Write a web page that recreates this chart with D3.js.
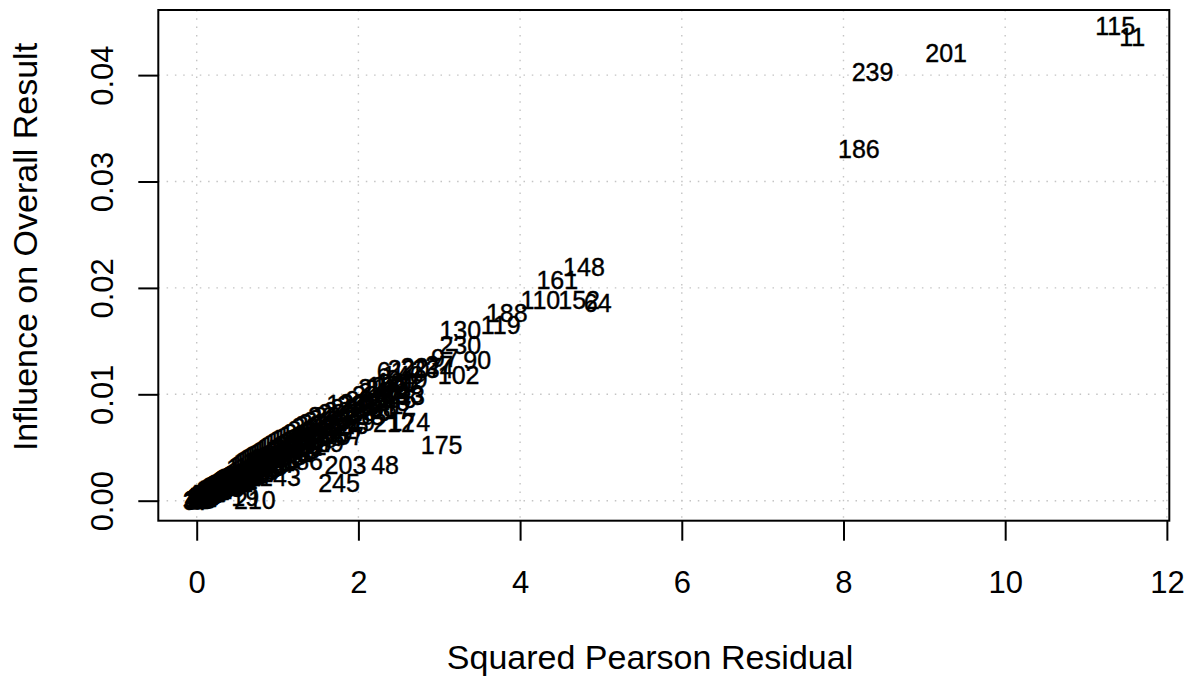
<!DOCTYPE html>
<html>
<head>
<meta charset="utf-8">
<script src="https://cdn.jsdelivr.net/npm/d3@7"></script>
<style>
  html, body { margin: 0; padding: 0; background: #fff; }
  svg { display: block; }
  text { font-family: "Liberation Sans", Arial, Helvetica, sans-serif; fill: #000; }
</style>
</head>
<body>
<svg id="chart" width="1192" height="676"></svg>
<script>
// ---- Data ----
// Studies whose labels can be read (or roughly located)
const namedIds = [115, 11, 201, 239, 186, 148, 161, 110, 152, 64, 188, 119, 130, 230, 97, 90, 102, 175, 48, 203, 245, 210, 143, 212, 174, 61, 220, 227, 234, 27, 140, 100, 196, 21, 198, 83, 217, 124, 20, 19, 86, 93, 57, 29];
const namedResid = [11.36, 11.57, 9.27, 8.36, 8.19, 4.79, 4.46, 4.25, 4.73, 4.96, 3.835, 3.76, 3.26, 3.26, 3.07, 3.47, 3.24, 3.03, 2.33, 1.84, 1.76, 0.72, 1.03, 2.44, 2.63, 2.40, 2.62, 2.78, 2.92, 3.00, 2.55, 2.48, 2.36, 2.17, 2.27, 2.45, 2.40, 1.86, 1.55, 0.60, 1.39, 2.65, 1.90, 1.65];
const namedInfl = [0.04464, 0.04361, 0.04205, 0.04032, 0.03303, 0.02199, 0.02074, 0.01886, 0.01886, 0.01855, 0.01761, 0.01651, 0.01604, 0.01463, 0.01338, 0.01322, 0.01181, 0.00524, 0.00336, 0.00336, 0.00164, 0.00007, 0.00222, 0.00727, 0.00735, 0.0122, 0.0124, 0.0126, 0.0124, 0.0128, 0.0118, 0.0112, 0.0108, 0.01057, 0.0096, 0.0099, 0.0085, 0.0091, 0.0080, 0.00035, 0.0037, 0.0098, 0.0061, 0.0054];

// Studies inside the dense, overprinted cluster near the origin (estimated)
const coreIds = [1,2,3,4,5,6,7,8,9,10,12,13,14,15,16,17,18,22,23,24,25,26,28,30,31,32,33,34,35,36,37,38,39,40,41,42,43,44,45,46,47,49,50,51,52,53,54,55,56,58,59,60,62,63,65,66,67,68,69,70,71,72,73,74,75,76,77,78,79,80,81,82,84,85,87,88,89,91,92,94,95,96,98,99,101,103,104,105,106,107,108,109,111,112,113,114,116,117,118,120,121,122,123,125,126,127,128,129,131,132,133,134,135,136,137,138,139,141,142,144,145,146,147,149,150,151,153,154,155,156,157,158,159,160,162,163,164,165,166,167,168,169,170,171,172,173,176,177,178,179,180,181,182,183,184,185,187,189,190,191,192,193,194,195,197,199,200,202,204,205,206,207,208,209,211,213,214,215,216,218,219,221,222,223,224,225,226,228,229,231,232,233,235,236,237,238,240,241,242,243,244,246,247,248,249];
const coreResid = [
  0.00,0.00,0.01,0.01,0.01,0.02,0.02,0.02,0.03,0.03,
  0.03,0.04,0.04,0.04,0.05,0.05,0.05,0.06,0.06,0.06,
  0.07,0.07,0.07,0.08,0.08,0.08,0.09,0.09,0.09,0.10,
  0.00,0.01,0.02,0.03,0.04,0.05,0.06,0.07,0.08,0.09,
  0.02,0.04,0.06,0.08,0.10,
  0.11,0.11,0.12,0.12,0.13,0.13,0.14,0.14,0.15,0.15,
  0.16,0.16,0.17,0.17,0.18,0.18,0.19,0.19,0.20,0.20,
  0.21,0.21,0.22,0.22,0.23,0.23,0.24,0.24,0.25,0.25,
  0.26,0.26,0.27,0.27,0.28,0.28,0.29,0.29,0.30,0.30,
  0.31,0.32,0.33,0.34,0.35,0.36,0.37,0.38,0.39,0.40,
  0.41,0.42,0.43,0.44,0.45,0.46,0.47,0.48,0.49,0.50,
  0.51,0.52,0.53,0.54,0.55,0.56,0.57,0.58,0.59,0.60,
  0.33,0.38,0.44,0.50,0.56,
  0.62,0.63,0.65,0.66,0.68,0.69,0.71,0.72,0.74,0.75,
  0.77,0.78,0.80,0.81,0.83,0.84,0.86,0.87,0.89,0.90,
  0.92,0.93,0.95,0.96,0.98,0.99,0.64,0.73,0.82,0.91,
  1.01,1.03,1.05,1.07,1.09,1.11,1.13,1.15,1.17,1.19,
  1.21,1.23,1.25,1.27,1.29,1.31,1.33,1.35,1.38,1.41,
  1.43,1.45,1.47,1.49,1.20,
  1.52,1.55,1.58,1.61,1.64,1.67,1.70,1.73,1.76,1.79,
  1.83,1.87,1.91,1.95,1.99,
  2.02,2.06,2.10,2.14,2.18,2.22,2.26,2.30,2.34,2.38,
  2.42,2.46,2.50,2.55,2.60
];
const coreInfl = [
  0.00002,0.00010,0.00005,0.00014,0.00002,0.00011,0.00020,0.00006,0.00015,0.00003,
  0.00022,0.00012,0.00026,0.00007,0.00019,0.00030,0.00010,0.00024,0.00014,0.00032,
  0.00027,0.00018,0.00036,0.00029,0.00041,0.00022,0.00034,0.00045,0.00026,0.00040,
  0.00000,0.00004,0.00009,0.00021,0.00016,0.00025,0.00035,0.00031,0.00037,0.00050,
  0.00013,0.00028,0.00017,0.00033,0.00048,
  0.00038,0.00052,0.00047,0.00061,0.00044,0.00058,0.00053,0.00068,0.00056,0.00070,
  0.00060,0.00075,0.00065,0.00079,0.00068,0.00083,0.00072,0.00088,0.00076,0.00092,
  0.00080,0.00096,0.00084,0.00099,0.00088,0.00104,0.00092,0.00108,0.00096,0.00112,
  0.00099,0.00116,0.00104,0.00120,0.00108,0.00124,0.00111,0.00128,0.00114,0.00133,
  0.00128,0.00126,0.00141,0.00135,0.00150,0.00144,0.00159,0.00152,0.00168,0.00160,
  0.00176,0.00168,0.00185,0.00177,0.00193,0.00185,0.00202,0.00194,0.00210,0.00202,
  0.00218,0.00211,0.00227,0.00219,0.00235,0.00228,0.00244,0.00236,0.00252,0.00245,
  0.00122,0.00147,0.00171,0.00198,0.00220,
  0.0031,0.0024,0.0033,0.0025,0.0034,0.0026,0.0036,0.0027,0.0037,0.0028,
  0.0039,0.0030,0.0040,0.0031,0.0042,0.0032,0.0043,0.0033,0.0044,0.0034,
  0.0046,0.0035,0.0047,0.0036,0.0049,0.0037,0.0028,0.0032,0.0036,0.0040,
  0.0050,0.0039,0.0052,0.0041,0.0054,0.0042,0.0056,0.0044,0.0058,0.0045,
  0.0059,0.0047,0.0061,0.0048,0.0063,0.0050,0.0064,0.0051,0.0066,0.0054,
  0.0069,0.0056,0.0071,0.0058,0.0052,
  0.0073,0.0060,0.0075,0.0062,0.0077,0.0064,0.0080,0.0066,0.0082,0.0069,
  0.0084,0.0071,0.0087,0.0074,0.0090,
  0.0092,0.0080,0.0095,0.0083,0.0099,0.0087,0.0102,0.0090,0.0105,0.0093,
  0.0108,0.0096,0.0111,0.0100,0.0114
];

const xTicks = [0, 2, 4, 6, 8, 10, 12];
const yTicks = [0, 0.01, 0.02, 0.03, 0.04];
const yTickLabels = ["0.00", "0.01", "0.02", "0.03", "0.04"];
const xTitle = "Squared Pearson Residual";
const yTitle = "Influence on Overall Result";

// ---- Layout ----
const box = { left: 158.3, right: 1169.3, top: 10, bottom: 520.7 };
const svg = d3.select("#chart");
svg.append("rect").attr("width", 1192).attr("height", 676).attr("fill", "#fff");

const x = d3.scaleLinear().domain([-0.475, 12.03]).range([box.left, box.right]);
const y = d3.scaleLinear().domain([-0.00188, 0.04612]).range([box.bottom, box.top]);

// grid
const grid = svg.append("g").attr("stroke", "#c4c4c4").attr("stroke-width", 1.4).attr("stroke-dasharray", "1.5,6.8");
grid.selectAll("line.vx").data(xTicks).join("line")
  .attr("x1", d => x(d)).attr("x2", d => x(d)).attr("y1", box.top).attr("y2", box.bottom);
grid.selectAll("line.hy").data(yTicks).join("line")
  .attr("y1", d => y(d)).attr("y2", d => y(d)).attr("x1", box.left).attr("x2", box.right);

// point labels
const pts = [];
namedIds.forEach((id, i) => pts.push({ id, r: namedResid[i], v: namedInfl[i] }));
coreIds.forEach((id, i) => pts.push({ id, r: coreResid[i], v: coreInfl[i] }));
pts.sort((a, b) => a.id - b.id);
svg.append("g").selectAll("text").data(pts).join("text")
  .attr("x", d => x(d.r)).attr("y", d => y(d.v)).attr("dy", "0.36em")
  .attr("text-anchor", "middle").attr("font-size", 25)
  .attr("stroke", "#000").attr("stroke-width", 0.4)
  .text(d => d.id);

// axes
const xAxis = svg.append("g").attr("transform", `translate(0,${box.bottom})`)
  .call(d3.axisBottom(x).tickValues(xTicks).tickSize(20).tickFormat(d3.format("d")));
xAxis.select(".domain").remove();
xAxis.selectAll(".tick line").attr("stroke", "#000").attr("stroke-width", 2);
xAxis.selectAll(".tick text").attr("y", 72.3).attr("dy", 0).attr("font-size", 31)
  .attr("font-family", "'Liberation Sans', Arial, sans-serif").attr("fill", "#000");

const yAxis = svg.append("g").attr("transform", `translate(${box.left},0)`)
  .call(d3.axisLeft(y).tickValues(yTicks).tickSize(20).tickFormat((d, i) => yTickLabels[i]));
yAxis.select(".domain").remove();
yAxis.selectAll(".tick line").attr("stroke", "#000").attr("stroke-width", 2);
yAxis.selectAll(".tick text").attr("transform", "rotate(-90)").attr("x", 0).attr("y", -45.3)
  .attr("dy", 0).attr("text-anchor", "middle").attr("font-size", 31)
  .attr("font-family", "'Liberation Sans', Arial, sans-serif").attr("fill", "#000");

// box
svg.append("rect").attr("x", box.left).attr("y", box.top)
  .attr("width", box.right - box.left).attr("height", box.bottom - box.top)
  .attr("fill", "none").attr("stroke", "#000").attr("stroke-width", 2);

// titles
svg.append("text").attr("x", 650).attr("y", 669).attr("text-anchor", "middle")
  .attr("font-size", 34).text(xTitle);
svg.append("text").attr("transform", "translate(37,247) rotate(-90)").attr("text-anchor", "middle")
  .attr("font-size", 34).text(yTitle);
</script>
</body>
</html>
